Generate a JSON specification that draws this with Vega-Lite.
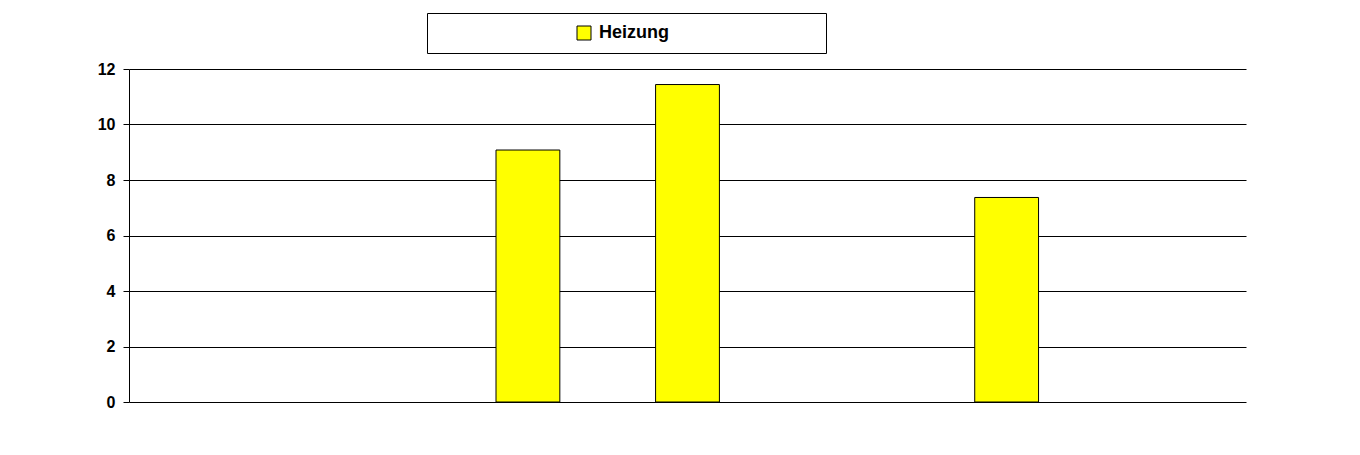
{
  "$schema": "https://vega.github.io/schema/vega-lite/v6.json",
  "autosize": {"type": "none"},
  "width": 1117,
  "height": 333,
  "padding": {"left": 129, "top": 69, "right": 114, "bottom": 53},
  "background": "white",
  "config": {"view": {"stroke": null}, "font": "Liberation Sans"},
  "data": {
    "values": [
      {"Kategorie": "3", "Wert": 9.08, "Serie": "Heizung"},
      {"Kategorie": "4", "Wert": 11.44, "Serie": "Heizung"},
      {"Kategorie": "6", "Wert": 7.37, "Serie": "Heizung"}
    ]
  },
  "mark": {"type": "bar", "stroke": "black", "strokeWidth": 1},
  "encoding": {
    "x": {
      "field": "Kategorie",
      "type": "nominal",
      "scale": {"domain": ["1", "2", "3", "4", "5", "6", "7"], "paddingInner": 0.6, "paddingOuter": 0.3},
      "axis": null
    },
    "y": {
      "field": "Wert",
      "type": "quantitative",
      "scale": {"domain": [0, 12], "nice": false},
      "axis": {
        "values": [0, 2, 4, 6, 8, 10, 12],
        "title": null,
        "domainColor": "black",
        "domainWidth": 1,
        "tickColor": "black",
        "tickSize": 6,
        "tickWidth": 1,
        "gridColor": "black",
        "gridWidth": 1,
        "gridOpacity": 1,
        "labelFont": "Liberation Sans",
        "labelFontSize": 16,
        "labelFontWeight": "bold",
        "labelColor": "black",
        "labelPadding": 8
      }
    },
    "color": {
      "field": "Serie",
      "type": "nominal",
      "scale": {"range": ["#FFFF00"]},
      "legend": {
        "orient": "none",
        "legendX": 298,
        "legendY": -56,
        "title": null,
        "symbolType": "square",
        "symbolSize": 196,
        "symbolStrokeColor": "black",
        "symbolStrokeWidth": 1,
        "symbolOpacity": 1,
        "symbolOffset": 137,
        "labelFont": "Liberation Sans",
        "labelFontSize": 18,
        "labelFontWeight": "bold",
        "labelColor": "black",
        "labelOffset": 6,
        "labelLimit": 600,
        "labelExpr": "pad(datum.label, 36, '\u00a0') + '\u200b'",
        "padding": 11,
        "strokeColor": "black",
        "fillColor": "white"
      }
    }
  }
}
